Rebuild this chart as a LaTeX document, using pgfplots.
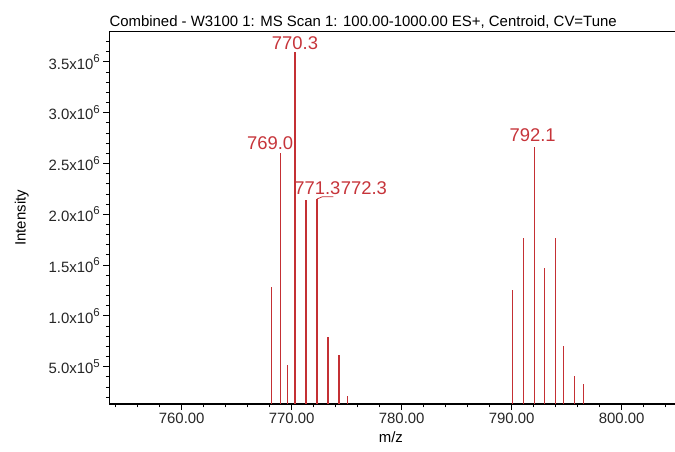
\documentclass[border=0pt]{standalone}
\usepackage{pgfplots}
\pgfplotsset{compat=1.18}
\usepackage{fontspec}
\setmainfont{Liberation Sans}
\definecolor{peak}{RGB}{196,48,52}
\definecolor{peaklabel}{RGB}{198,52,58}
% intensity tick label such as 3.5x10^6
\newcommand{\sci}[2]{#1x10\raisebox{0.45em}{\fontsize{11.5}{11.5}\selectfont #2}}

\begin{document}
\begin{tikzpicture}[x=1bp,y=1bp]
\path[use as bounding box] (0,0) rectangle (675,452);
\begin{axis}[
  name=ax,
  at={(109.3bp,48bp)}, anchor=south west,
  scale only axis, width=567.7bp, height=372.3bp,
  xmin=753.42, xmax=805.03, ymin=133000, ymax=3797000,
  axis line style={line width=1.1bp},
  tick align=outside, xtick pos=bottom, ytick pos=left,
  major tick length=6bp, minor tick length=3.5bp,
  every tick/.style={black, line width=0.9bp},
  xtick={760,770,780,790,800},
  minor xtick={754,756,758,762,764,766,768,772,774,776,778,782,784,786,788,792,794,796,798,802,804},
  scaled y ticks=false,
  ytick={500000,1000000,1500000,2000000,2500000,3000000,3500000},
  yticklabels={\sci{5.0}{5},\sci{1.0}{6},\sci{1.5}{6},\sci{2.0}{6},\sci{2.5}{6},\sci{3.0}{6},\sci{3.5}{6}},
  minor ytick={200000,300000,400000,600000,700000,800000,900000,1100000,1200000,1300000,1400000,1600000,1700000,1800000,1900000,2100000,2200000,2300000,2400000,2600000,2700000,2800000,2900000,3100000,3200000,3300000,3400000,3600000,3700000},
  tick label style={font=\fontsize{15}{15}\selectfont, text=black!85},
  x tick label style={/pgf/number format/.cd, fixed, fixed zerofill, precision=2, assume math mode=true},
  xlabel={m/z},
  xlabel style={font=\fontsize{15}{15}\selectfont, at={(axis description cs:0.496,-0.0886)}, anchor=center},
  ylabel={Intensity},
  ylabel style={font=\fontsize{15}{15}\selectfont, at={(axis description cs:-0.154,0.5)}, anchor=center, rotate=0},
]
% centroided peaks: m/z against intensity
\addplot[ycomb, color=peak, line width=1.1bp, mark=none] coordinates {
  (768.2,1280000) (769.0,2600000) (769.6,520000) (770.3,3600000)
  (771.3,2140000) (772.3,2150000) (773.3,795000) (774.3,615000)
  (775.1,210000)
  (790.1,1255000) (791.1,1770000) (792.1,2665000) (793.0,1470000)
  (794.0,1770000) (794.7,707000) (795.7,410000) (796.5,330000)
};
% peak annotations
\begin{scope}[every node/.style={text=peaklabel, inner sep=0, font=\fontsize{18.5}{18.5}\selectfont}]
\node[anchor=south] at (axis cs:770.3,3600000) [yshift=1.5bp] {770.3};
\node[anchor=south east] at (axis cs:770.15,2600000) [yshift=3bp] {769.0};
\node[anchor=south west] (l771) at (axis cs:770.22,2190000) {771.3};
\node[anchor=south west] at (l771.south east) {772.3};
\node[anchor=south] at (axis cs:791.9,2665000) [yshift=5bp] {792.1};
\end{scope}
% leader from the 772.3 peak to its label
\draw[peak, line width=0.8bp] (axis cs:772.3,2150000) -- (axis cs:772.79,2173000) -- (axis cs:773.78,2173000);
\end{axis}
\node[anchor=base west, inner sep=0, font=\fontsize{15}{15}\selectfont] at ([yshift=5bp]ax.north west)
  {Combined - W3100 1: MS Scan 1: 100.00-1000.00 ES+, Centroid, CV=Tune};
\end{tikzpicture}
\end{document}
